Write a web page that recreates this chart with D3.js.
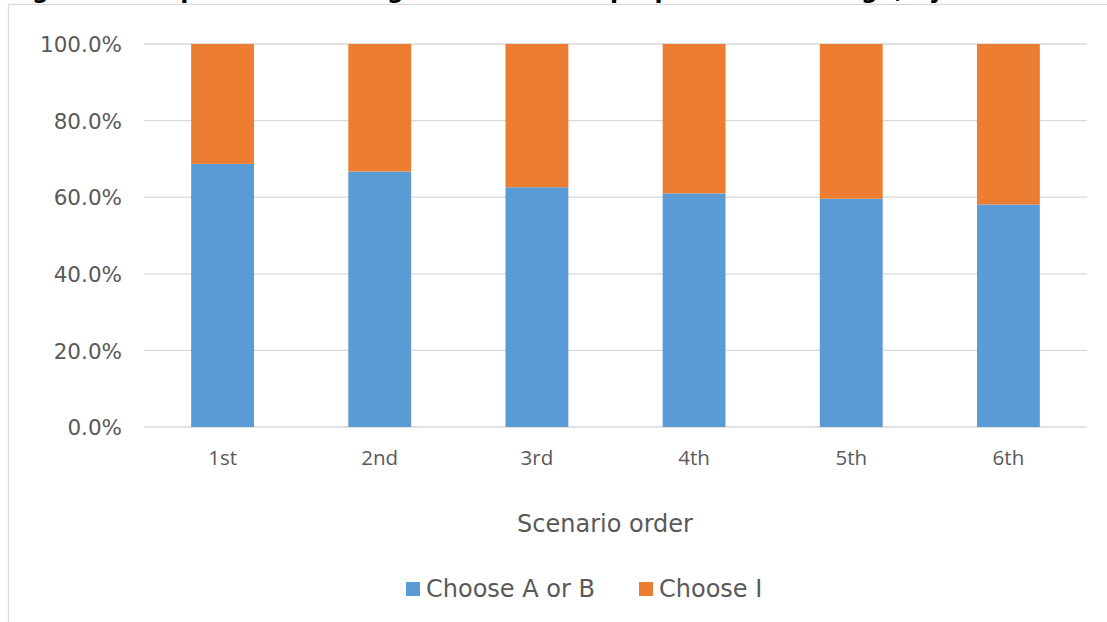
<!DOCTYPE html>
<meta charset="utf-8">
<style>
body { margin: 0; background: #fff; }
text { fill: #595959; }
.ytick text { font: 21.5px "DejaVu Sans", Verdana, sans-serif; }
.xtick text { font: 20.5px "Open Sans", sans-serif; }
.label { font: 24px "DejaVu Sans", Verdana, sans-serif; }
.title { font: bold 23.5px "DejaVu Sans", Verdana, sans-serif; fill: #000; }
</style>
<body>
<script src="https://cdn.jsdelivr.net/npm/d3@7"></script>
<script>

// scenario order categories
var orders = ["1st", "2nd", "3rd", "4th", "5th", "6th"];
// share choosing A or B
var chooseAB = [0.687, 0.667, 0.626, 0.610, 0.596, 0.581];
// share choosing I
var chooseI = chooseAB.map(function(v){ return 1 - v; });
var seriesNames = ["Choose A or B", "Choose I"];
var seriesColors = ["#5B9BD5", "#ED7D31"];
var yTicks = [0, 0.2, 0.4, 0.6, 0.8, 1.0];

var W = 1107, H = 622;
var svg = d3.select("body").append("svg").attr("width", W).attr("height", H);

// title, mostly cut off at the top of the picture
svg.append("text").attr("class", "title")
    .attr("x", 8).attr("y", -2.5)
    .text("Figure 3: Proportion choosing A or B and the proportion choosing I, by scenario order");

// chart frame
svg.append("rect")
    .attr("x", 8.5).attr("y", 4.5)
    .attr("width", W + 20).attr("height", H + 20)
    .attr("fill", "#fff").attr("stroke", "#d9d9d9").attr("stroke-width", 1.3);

var x = d3.scaleBand().domain(orders).range([144, 1087]).paddingInner(0.6).paddingOuter(0.3);
var y = d3.scaleLinear().domain([0, 1]).range([427, 44]);

// gridlines
svg.append("g").selectAll("line")
    .data(yTicks).enter().append("line")
    .attr("x1", 144).attr("x2", 1087)
    .attr("y1", function(d){ return y(d); })
    .attr("y2", function(d){ return y(d); })
    .attr("stroke", "#d9d9d9").attr("stroke-width", 1.3);

// stacked bars
var rows = orders.map(function(o, i){ return {order: o, ab: chooseAB[i], i: chooseI[i]}; });
var stack = d3.stack().keys(["ab", "i"])(rows);

svg.append("g").selectAll("g")
    .data(stack).enter().append("g")
    .attr("fill", function(d, k){ return seriesColors[k]; })
    .selectAll("rect")
    .data(function(d){ return d; }).enter().append("rect")
    .attr("x", function(d){ return x(d.data.order); })
    .attr("width", x.bandwidth())
    .attr("y", function(d){ return y(d[1]); })
    .attr("height", function(d){ return y(d[0]) - y(d[1]); });

// y axis labels
var yAxis = d3.axisLeft(y).tickValues(yTicks).tickFormat(d3.format(".1%")).tickSize(0).tickPadding(22);
svg.append("g").attr("class", "ytick")
    .attr("transform", "translate(144,0)")
    .call(yAxis)
    .call(function(g){ g.select(".domain").remove(); });
svg.selectAll(".ytick text").attr("fill", "#595959").attr("dy", "0.36em");

// x axis labels
var xAxis = d3.axisBottom(x).tickSize(0).tickPadding(23);
svg.append("g").attr("class", "xtick")
    .attr("transform", "translate(0,427)")
    .call(xAxis)
    .call(function(g){ g.select(".domain").remove(); });
svg.selectAll(".xtick text").attr("fill", "#595959");

// axis title
svg.append("text").attr("class", "label")
    .attr("x", 605).attr("y", 532)
    .attr("text-anchor", "middle")
    .text("Scenario order");

// legend
var legendX = [406, 639];
var lg = svg.append("g").selectAll("g")
    .data(seriesNames).enter().append("g")
    .attr("transform", function(d, k){ return "translate(" + legendX[k] + ",582)"; });
lg.append("rect").attr("width", 14).attr("height", 14)
    .attr("fill", function(d, k){ return seriesColors[k]; });
lg.append("text").attr("class", "label")
    .attr("x", 20).attr("y", 15)
    .text(function(d){ return d; });

</script>
</body>
